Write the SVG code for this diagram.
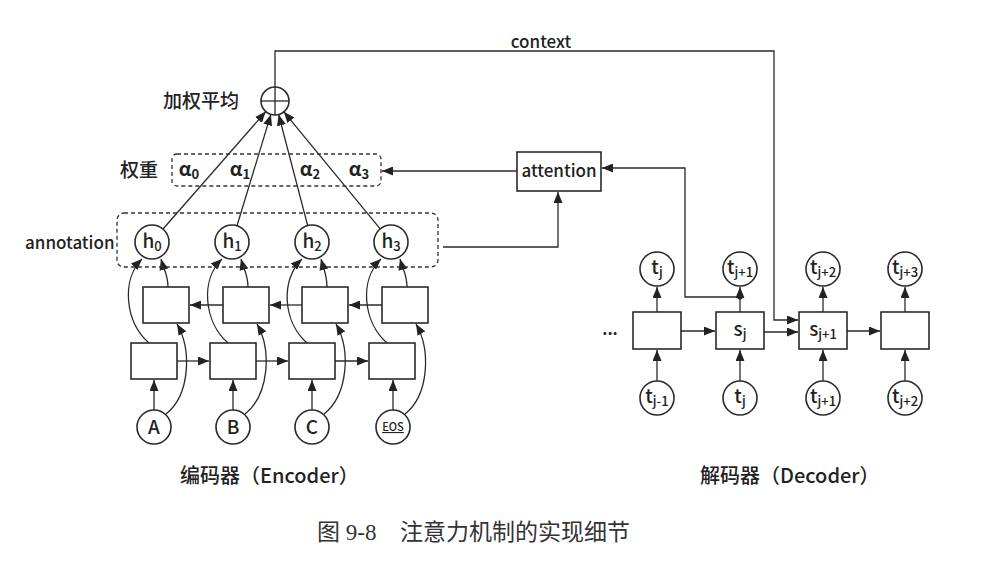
<svg xmlns="http://www.w3.org/2000/svg" width="997" height="577" viewBox="0 0 997 577">
<defs>
<marker id="ah" viewBox="0 0 11 9" refX="11" refY="4.5" markerWidth="11" markerHeight="9" markerUnits="userSpaceOnUse" orient="auto"><path d="M0,0 L11,4.5 L0,9 z" fill="#222"/></marker>
<style>
.ln{stroke:#2a2a2a;stroke-width:1.3;fill:none}
.ar{stroke:#2a2a2a;stroke-width:1.3;fill:none;marker-end:url(#ah)}
.box{fill:#fff;stroke:#2a2a2a;stroke-width:1.6}
.cir{fill:#fff;stroke:#2a2a2a;stroke-width:1.6}
.dash{fill:none;stroke:#333;stroke-width:1.3;stroke-dasharray:4 3}
.t{font-family:"Noto Sans CJK SC","Liberation Sans",sans-serif;fill:#222;font-weight:500}
.c{font-size:19px;text-anchor:middle}
.s{font-size:13px}
.b{font-weight:700}
.cap{font-family:"Liberation Serif","Noto Sans CJK SC",serif;fill:#333;font-size:23px}
</style>
</defs>
<rect width="997" height="577" fill="#fff"/>

<!-- connectors -->
<g id="connectors">
  <path class="ar" d="M275 87 L275 51 L774 51 L774 320 L798 320"/>
  <line class="ar" x1="163" y1="229" x2="265.8" y2="111.6"/>
  <line class="ar" x1="237" y1="225.7" x2="270.9" y2="114.4"/>
  <line class="ar" x1="307.7" y1="225.6" x2="278.6" y2="114.5"/>
  <line class="ar" x1="380.2" y1="228.9" x2="283.9" y2="111.8"/>
  <line class="ar" x1="517" y1="171" x2="382" y2="171"/>
  <path class="ar" d="M443 247 L558 247 L558 192"/>
  <path class="ar" d="M740 297 L685 297 L685 168 L602 168"/>
  <circle cx="740" cy="297" r="2.6" fill="#222"/>

  <line class="ar" x1="154" y1="410" x2="154" y2="380"/>
  <path class="ar" d="M166 414 C190 395 192 350 177 324"/>
  <path class="ar" d="M149 343 C125 322 121 280 142 259"/>
  <path class="ar" d="M168 287 C168 275 164 270 161 259"/>
  <line class="ar" x1="233" y1="410" x2="233" y2="380"/>
  <path class="ar" d="M245 414 C269 395 272 350 257 324"/>
  <path class="ar" d="M228 343 C204 322 200 280 222 259"/>
  <path class="ar" d="M248 287 C248 275 244 270 241 259"/>
  <line class="ar" x1="312" y1="410" x2="312" y2="380"/>
  <path class="ar" d="M324 414 C348 395 351 350 336 324"/>
  <path class="ar" d="M307 343 C283 322 280 280 302 259"/>
  <path class="ar" d="M327 287 C327 275 324 270 321 259"/>
  <line class="ar" x1="393" y1="410" x2="393" y2="380"/>
  <path class="ar" d="M405 414 C429 395 431 350 416 324"/>
  <path class="ar" d="M387 343 C363 322 359 280 381 259"/>
  <path class="ar" d="M407 287 C407 275 403 270 400 259"/>
  <line class="ar" x1="177" y1="361" x2="209" y2="361"/>
  <line class="ar" x1="256" y1="361" x2="288" y2="361"/>
  <line class="ar" x1="335" y1="361" x2="368" y2="361"/>
  <line class="ar" x1="223" y1="305" x2="190" y2="305"/>
  <line class="ar" x1="302" y1="305" x2="270" y2="305"/>
  <line class="ar" x1="382" y1="305" x2="349" y2="305"/>

  <line class="ar" x1="657" y1="312" x2="657" y2="287"/>
  <line class="ar" x1="740" y1="312" x2="740" y2="287"/>
  <line class="ar" x1="823" y1="312" x2="823" y2="287"/>
  <line class="ar" x1="905" y1="312" x2="905" y2="287"/>
  <line class="ar" x1="657" y1="381" x2="657" y2="350"/>
  <line class="ar" x1="740" y1="381" x2="740" y2="350"/>
  <line class="ar" x1="823" y1="381" x2="823" y2="350"/>
  <line class="ar" x1="905" y1="381" x2="905" y2="350"/>
  <line class="ar" x1="681" y1="331" x2="715" y2="331"/>
  <line class="ar" x1="764" y1="332" x2="798" y2="332"/>
  <line class="ar" x1="847" y1="331" x2="880" y2="331"/>
</g>

<g id="sum">
  <circle class="cir" cx="275" cy="101" r="14"/>
  <line class="ln" x1="261" y1="101" x2="289" y2="101"/>
  <line class="ln" x1="275" y1="87" x2="275" y2="115"/>
  <text class="t" x="163" y="108" font-size="19">加权平均</text>
</g>
<text class="t" x="541" y="48" font-size="17" text-anchor="middle">context</text>

<g id="weights">
  <rect class="dash" x="172" y="154" width="209" height="32" rx="5"/>
  <text class="t" x="120" y="177" font-size="19">权重</text>
  <text class="t c b" x="189" y="176">α<tspan class="s" dy="3">0</tspan></text>
  <text class="t c b" x="240" y="176">α<tspan class="s" dy="3">1</tspan></text>
  <text class="t c b" x="310" y="176">α<tspan class="s" dy="3">2</tspan></text>
  <text class="t c b" x="359" y="176">α<tspan class="s" dy="3">3</tspan></text>
</g>

<g id="attention">
  <rect class="box" x="517" y="152" width="84" height="39"/>
  <text class="t" x="559" y="177" font-size="17" text-anchor="middle">attention</text>
</g>

<g id="annotation">
  <rect class="dash" x="117" y="213" width="321" height="54" rx="7"/>
  <text class="t" x="25" y="249" font-size="17">annotation</text>
</g>
<g id="h0"><circle class="cir" cx="152" cy="242" r="17"/><text class="t c" x="152" y="248">h<tspan class="s" dy="3">0</tspan></text></g>
<g id="h1"><circle class="cir" cx="232" cy="242" r="17"/><text class="t c" x="232" y="248">h<tspan class="s" dy="3">1</tspan></text></g>
<g id="h2"><circle class="cir" cx="312" cy="242" r="17"/><text class="t c" x="312" y="248">h<tspan class="s" dy="3">2</tspan></text></g>
<g id="h3"><circle class="cir" cx="391" cy="242" r="17"/><text class="t c" x="391" y="248">h<tspan class="s" dy="3">3</tspan></text></g>

<g id="b0"><rect class="box" x="143" y="287" width="46" height="36"/></g>
<g id="b1"><rect class="box" x="223" y="287" width="46" height="36"/></g>
<g id="b2"><rect class="box" x="302" y="287" width="46" height="36"/></g>
<g id="b3"><rect class="box" x="382" y="287" width="46" height="36"/></g>
<g id="f0"><rect class="box" x="131" y="343" width="46" height="36"/></g>
<g id="f1"><rect class="box" x="210" y="343" width="46" height="36"/></g>
<g id="f2"><rect class="box" x="289" y="343" width="46" height="36"/></g>
<g id="f3"><rect class="box" x="369" y="343" width="46" height="36"/></g>

<g id="inA"><circle class="cir" cx="154" cy="427" r="17"/><text class="t c" x="154" y="434">A</text></g>
<g id="inB"><circle class="cir" cx="233" cy="427" r="17"/><text class="t c" x="233" y="434">B</text></g>
<g id="inC"><circle class="cir" cx="312" cy="427" r="17"/><text class="t c" x="312" y="434">C</text></g>
<g id="inEOS"><circle class="cir" cx="393" cy="427" r="17"/><text class="t" x="393" y="431" font-size="11" text-anchor="middle" text-decoration="underline">EOS</text></g>

<text class="t b" x="610" y="335" font-size="16" text-anchor="middle">...</text>
<g id="d0"><rect class="box" x="633" y="312" width="48" height="37"/></g>
<g id="d1"><rect class="box" x="716" y="312" width="48" height="37"/><text class="t c" x="740" y="336">s<tspan class="s" dy="3">j</tspan></text></g>
<g id="d2"><rect class="box" x="799" y="312" width="48" height="37"/><text class="t c" x="823" y="336">s<tspan class="s" dy="3">j+1</tspan></text></g>
<g id="d3"><rect class="box" x="881" y="312" width="48" height="37"/></g>

<g id="o0"><circle class="cir" cx="657" cy="269" r="17"/><text class="t c" x="657" y="274">t<tspan class="s" dy="3">j</tspan></text></g>
<g id="o1"><circle class="cir" cx="740" cy="269" r="17"/><text class="t c" x="740" y="274">t<tspan class="s" dy="3">j+1</tspan></text></g>
<g id="o2"><circle class="cir" cx="823" cy="269" r="17"/><text class="t c" x="823" y="274">t<tspan class="s" dy="3">j+2</tspan></text></g>
<g id="o3"><circle class="cir" cx="905" cy="269" r="17"/><text class="t c" x="905" y="274">t<tspan class="s" dy="3">j+3</tspan></text></g>

<g id="i0"><circle class="cir" cx="657" cy="398" r="17"/><text class="t c" x="657" y="403">t<tspan class="s" dy="3">j-1</tspan></text></g>
<g id="i1"><circle class="cir" cx="740" cy="398" r="17"/><text class="t c" x="740" y="403">t<tspan class="s" dy="3">j</tspan></text></g>
<g id="i2"><circle class="cir" cx="823" cy="398" r="17"/><text class="t c" x="823" y="403">t<tspan class="s" dy="3">j+1</tspan></text></g>
<g id="i3"><circle class="cir" cx="905" cy="398" r="17"/><text class="t c" x="905" y="403">t<tspan class="s" dy="3">j+2</tspan></text></g>

<text class="t" x="180" y="483" font-size="20">编码器（Encoder）</text>
<text class="t" x="700" y="483" font-size="20">解码器（Decoder）</text>
<text class="cap" x="317" y="540">图 9-8</text>
<text class="cap" x="400" y="540">注意力机制的实现细节</text>
</svg>
